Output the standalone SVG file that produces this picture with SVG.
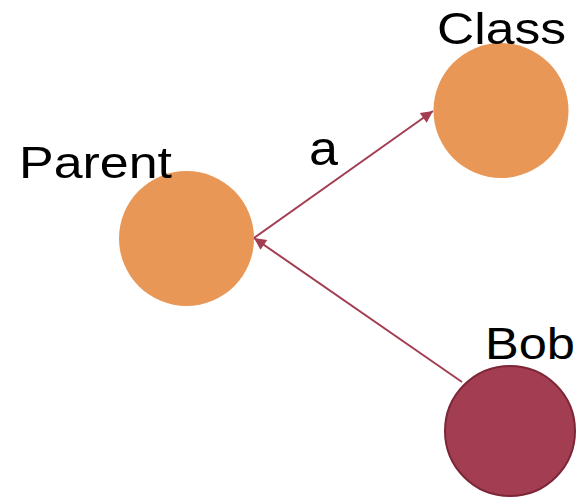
<svg xmlns="http://www.w3.org/2000/svg" width="576" height="497" viewBox="0 0 576 497">
<style>
.lbl{font-family:"Liberation Sans",Arial,sans-serif;font-size:45px;fill:#000}
.edge{stroke:#a33d52;stroke-width:2;fill:none}
.orange{fill:#e99756}
.red{fill:#a33d52;stroke:#7c2637;stroke-width:2}
</style>
<defs>
<marker id="ah" viewBox="0 0 10 10" refX="10" refY="5" markerWidth="7.5" markerHeight="6" markerUnits="strokeWidth" orient="auto">
<path d="M0,0 L10,5 L0,10 z" fill="#a33d52"/>
</marker>
</defs>
<rect width="576" height="497" fill="#fff"/>
<g id="edges">
<line class="edge" x1="254" y1="238" x2="433" y2="111" marker-end="url(#ah)"/>
<text class="lbl" x="309" y="165" style="font-size:48px" textLength="29" lengthAdjust="spacingAndGlyphs">a</text>
<line class="edge" x1="462" y1="382" x2="254" y2="238" marker-end="url(#ah)"/>
</g>
<g id="parent">
<circle class="orange" cx="186.5" cy="238.5" r="67.5"/>
<text class="lbl" x="19" y="178" textLength="153" lengthAdjust="spacingAndGlyphs">Parent</text>
</g>
<g id="class">
<circle class="orange" cx="501" cy="110.5" r="67.5"/>
<text class="lbl" x="437" y="44" textLength="129" lengthAdjust="spacingAndGlyphs">Class</text>
</g>
<g id="bob">
<circle class="red" cx="510" cy="431" r="65"/>
<text class="lbl" x="485" y="359" textLength="90" lengthAdjust="spacingAndGlyphs">Bob</text>
</g>
</svg>
